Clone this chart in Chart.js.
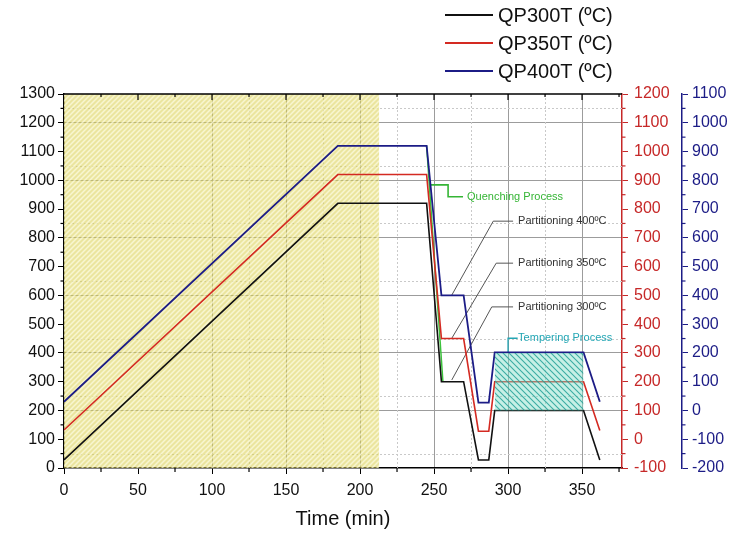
<!DOCTYPE html>
<html lang="en">
<head>
<meta charset="UTF-8">
<title>Q&amp;P heat treatment cycles</title>
<script src="https://cdn.jsdelivr.net/npm/chart.js"></script>
<style>
  body { margin: 0; background: #fff; font-family: 'Liberation Sans', Arial, sans-serif; }
  #wrap { position: relative; width: 738px; height: 533px; }
  #legend { position: absolute; left: 445px; top: 0; }
  .item { position: absolute; left: 0; height: 28px; display: flex; align-items: center; white-space: nowrap; }
  .item span.line { display: inline-block; width: 48px; height: 2px; margin-right: 5px; }
  .item span.txt { font-size: 20px; color: #111; }
</style>
</head>
<body>
<div id="wrap">
  <canvas id="chart" width="738" height="533"></canvas>
  <div id="legend"></div>
</div>

<script>
// --- data ---
const timeMin = [0, 185, 245, 255, 270, 280, 287, 291, 351, 362];
const qp300 = [28, 920, 920, 300, 300, 28, 28, 200, 200, 28];   // left axis
const qp350 = [32, 920, 920, 350, 350, 28, 28, 200, 200, 30];   // red axis
const qp400 = [30, 920, 920, 400, 400, 27, 27, 202, 202, 30];   // blue axis

const seriesLabels = ['QP300T (ºC)', 'QP350T (ºC)', 'QP400T (ºC)'];
const seriesColors = ['#111111', '#d42a22', '#1c1c86'];

// quenching line (left axis units)
const quenchX = [245, 256];
const quenchY = [1120, 300];

// shaded regions
const heatX = [0, 213];
const heatTop = [1300, 1300];
const temperX = [291, 351];
const temperTop = [400, 400];
const temperBottom = [200, 200];

// leader lines for the notes (left axis units)
const lead400X = [262, 290, 303.4], lead400Y = [601, 858, 858];
const lead350X = [262, 292, 303.4], lead350Y = [451, 712, 712];
const lead300X = [262, 289, 303.4], lead300Y = [306, 560, 560];
const quenchNoteX = [247.3, 259.5, 259.5, 269.6], quenchNoteY = [984, 984, 943, 943];
const temperNoteX = [300, 300, 306.5], temperNoteY = [401, 451, 451];

const notes = [
  { text: 'Quenching Process', x: 272.3, y: 943, color: '#35b535' },
  { text: 'Partitioning 400ºC', x: 306.8, y: 858, color: '#333' },
  { text: 'Partitioning 350ºC', x: 306.8, y: 712, color: '#333' },
  { text: 'Partitioning 300ºC', x: 306.8, y: 560, color: '#333' },
  { text: 'Tempering Process', x: 306.8, y: 451, color: '#23a6b4' }
];

const xTicks = [0, 50, 100, 150, 200, 250, 300, 350];

function pts(xs, ys) { return xs.map((x, i) => ({ x: x, y: ys[i] })); }

function hatch(bg, fg, back, size, lw) {
  const c = document.createElement('canvas');
  c.width = c.height = size;
  const g = c.getContext('2d');
  g.fillStyle = bg;
  g.fillRect(0, 0, size, size);
  g.strokeStyle = fg;
  g.lineWidth = lw;
  g.beginPath();
  if (!back) {
    g.moveTo(0, size); g.lineTo(size, 0);
    g.moveTo(-size, size); g.lineTo(size, -size);
    g.moveTo(0, 2 * size); g.lineTo(2 * size, 0);
  } else {
    g.moveTo(0, 0); g.lineTo(size, size);
    g.moveTo(-size, 0); g.lineTo(size, 2 * size);
    g.moveTo(0, -size); g.lineTo(2 * size, size);
  }
  g.stroke();
  return document.createElement('canvas').getContext('2d').createPattern(c, 'repeat');
}

const yellowHatch = hatch('rgba(218,208,80,0.55)', 'rgba(255,255,235,0.65)', false, 5, 1.5);
const tealHatch = hatch('rgba(130,222,200,0.45)', 'rgba(35,160,150,0.85)', true, 6, 1.1);

function lineSet(label, xs, ys, color, axis, width) {
  return {
    label: label, data: pts(xs, ys), borderColor: color, borderWidth: width,
    yAxisID: axis, pointRadius: 0, tension: 0, fill: false
  };
}

// legend (html)
const legend = document.getElementById('legend');
seriesLabels.forEach((lab, i) => {
  const d = document.createElement('div');
  d.className = 'item';
  d.style.top = (1 + i * 28) + 'px';
  d.innerHTML = '<span class="line" style="background:' + seriesColors[i] + '"></span><span class="txt">' + lab + '</span>';
  legend.appendChild(d);
});

// minor grid, minor ticks, top border and notes
const extras = {
  id: 'extras',
  beforeDatasetsDraw(chart) {
    const { ctx, chartArea: a, scales } = chart;
    const x = scales.x, y = scales.y;
    ctx.save();
    ctx.strokeStyle = '#c9c9c9';
    ctx.lineWidth = 1;
    ctx.setLineDash([2, 2]);
    for (let v = 50; v < 1300; v += 200) {
      const py = Math.round(y.getPixelForValue(v)) + 0.5;
      ctx.beginPath(); ctx.moveTo(a.left, py); ctx.lineTo(a.right, py); ctx.stroke();
    }
    for (let v = 125; v < 350; v += 50) {
      const px = Math.round(x.getPixelForValue(v)) + 0.5;
      ctx.beginPath(); ctx.moveTo(px, a.top); ctx.lineTo(px, a.bottom); ctx.stroke();
    }
    ctx.restore();
  },
  afterDraw(chart) {
    const { ctx, chartArea: a, scales } = chart;
    const x = scales.x;
    ctx.save();
    // top border with inward ticks
    ctx.strokeStyle = '#000';
    ctx.lineWidth = 1.5;
    ctx.beginPath(); ctx.moveTo(a.left, a.top); ctx.lineTo(a.right, a.top); ctx.stroke();
    ctx.lineWidth = 1.2;
    for (let v = 25; v < 377; v += 25) {
      const px = x.getPixelForValue(v);
      const len = v % 50 === 0 ? 6 : 3;
      ctx.beginPath(); ctx.moveTo(px, a.top); ctx.lineTo(px, a.top + len); ctx.stroke();
      if (v % 50 !== 0) {
        ctx.beginPath(); ctx.moveTo(px, a.bottom); ctx.lineTo(px, a.bottom + 4); ctx.stroke();
      }
    }
    // minor ticks on the y axes
    [['y', -1, '#000', 0], ['y2', 1, '#c62828', -100], ['y3', 1, '#1c1c86', -200]].forEach(([id, dir, col, lo]) => {
      const s = scales[id];
      const base = dir < 0 ? s.right : s.left;
      ctx.strokeStyle = col;
      for (let v = lo + 50; v < lo + 1300; v += 100) {
        const py = s.getPixelForValue(v);
        ctx.beginPath(); ctx.moveTo(base, py); ctx.lineTo(base + dir * 3.5, py); ctx.stroke();
      }
    });
    // notes
    ctx.font = '11px "Liberation Sans", Arial, sans-serif';
    ctx.textBaseline = 'middle';
    ctx.textAlign = 'left';
    notes.forEach(n => {
      ctx.fillStyle = n.color;
      ctx.fillText(n.text, x.getPixelForValue(n.x), scales.y.getPixelForValue(n.y));
    });
    ctx.restore();
  }
};

const tickFont = { family: '"Liberation Sans", Arial, sans-serif', size: 16 };
const plain = v => String(v);

new Chart(document.getElementById('chart'), {
  type: 'line',
  data: {
    datasets: [
      { label: 'temper top', data: pts(temperX, temperTop), borderWidth: 0, pointRadius: 0,
        backgroundColor: tealHatch, fill: '+1', yAxisID: 'y' },
      { label: 'temper bottom', data: pts(temperX, temperBottom), borderWidth: 0, pointRadius: 0,
        fill: false, yAxisID: 'y' },
      lineSet(seriesLabels[0], timeMin, qp300, seriesColors[0], 'y', 1.6),
      lineSet(seriesLabels[1], timeMin, qp350, seriesColors[1], 'y2', 1.6),
      lineSet(seriesLabels[2], timeMin, qp400, seriesColors[2], 'y3', 1.8),
      lineSet('quench', quenchX, quenchY, '#3cc23c', 'y', 1.5),
      lineSet('lead400', lead400X, lead400Y, '#555', 'y', 1),
      lineSet('lead350', lead350X, lead350Y, '#555', 'y', 1),
      lineSet('lead300', lead300X, lead300Y, '#555', 'y', 1),
      lineSet('quench note', quenchNoteX, quenchNoteY, '#35b535', 'y', 1.6),
      lineSet('temper note', temperNoteX, temperNoteY, '#23a6b4', 'y', 1.3),
      { label: 'heating', data: pts(heatX, heatTop), borderWidth: 0, pointRadius: 0,
        backgroundColor: yellowHatch, fill: 'start', yAxisID: 'y' }
    ]
  },
  options: {
    responsive: false,
    animation: false,
    layout: { padding: { top: 94, left: 0, right: 0, bottom: 0 } },
    plugins: { legend: { display: false }, tooltip: { enabled: false } },
    scales: {
      x: {
        type: 'linear', position: 'bottom', min: 0, max: 377,
        afterBuildTicks: s => { s.ticks = xTicks.map(v => ({ value: v })); },
        afterFit: s => { s.height = 65; },
        ticks: { color: '#111', font: tickFont, padding: 7, maxRotation: 0, callback: plain },
        grid: {
          color: c => (c.tick && c.tick.value >= 100) ? '#9c9c9c' : 'rgba(0,0,0,0)',
          tickColor: '#000', tickLength: 6, lineWidth: 1
        },
        border: { color: '#000', width: 1.5 },
        title: { display: true, text: 'Time (min)', color: '#111',
          font: { family: '"Liberation Sans", Arial, sans-serif', size: 20 }, padding: { top: 2, bottom: 2 } }
      },
      y: {
        position: 'left', min: 0, max: 1300,
        ticks: { stepSize: 100, color: '#111', font: tickFont, padding: 3, callback: plain },
        afterFit: s => { s.width = 64; },
        grid: {
          color: c => (c.tick && c.tick.value % 200 === 0 && c.tick.value > 0 && c.tick.value < 1300) ? '#9c9c9c' : 'rgba(0,0,0,0)',
          tickColor: '#000', tickLength: 6
        },
        border: { color: '#000', width: 1.5 }
      },
      y2: {
        position: 'right', min: -100, max: 1200,
        ticks: { stepSize: 100, color: '#c62828', font: tickFont, padding: 6, callback: plain },
        afterFit: s => { s.width = 60; },
        grid: { drawOnChartArea: false, tickColor: '#c62828', tickLength: 6 },
        border: { color: '#c62828', width: 1.5 }
      },
      y3: {
        position: 'right', min: -200, max: 1100,
        ticks: { stepSize: 100, color: '#1c1c86', font: tickFont, padding: 4, callback: plain },
        afterFit: s => { s.width = 56; },
        grid: { drawOnChartArea: false, tickColor: '#1c1c86', tickLength: 6 },
        border: { color: '#1c1c86', width: 1.5 }
      }
    }
  },
  plugins: [extras]
});
</script>
</body>
</html>
